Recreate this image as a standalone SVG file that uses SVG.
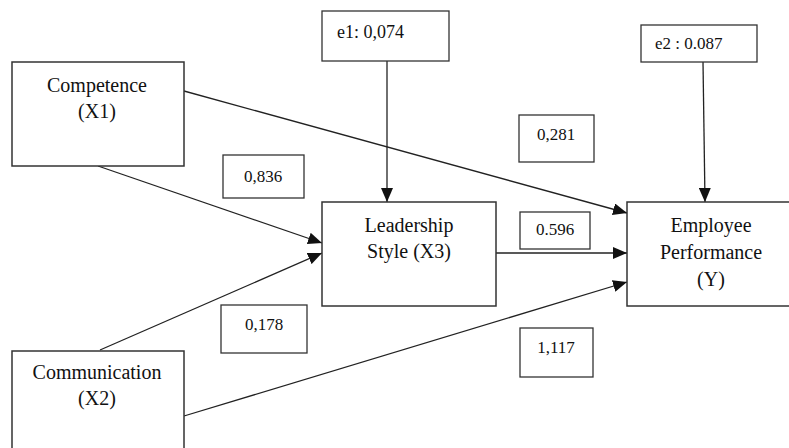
<svg xmlns="http://www.w3.org/2000/svg" width="789" height="448" viewBox="0 0 789 448">
<style>
.box{fill:#fff;stroke:#333;stroke-width:1.5}
.lbl{fill:#fff;stroke:#333;stroke-width:1.3}
.t{font-family:"Liberation Serif","Times New Roman",serif;font-size:20px;fill:#111;text-anchor:middle}
.s{font-family:"Liberation Serif","Times New Roman",serif;font-size:17px;fill:#111;text-anchor:middle}
.c{stroke:#222;stroke-width:1.3;fill:none;marker-end:url(#ah)}
</style>
<defs>
<marker id="ah" markerUnits="userSpaceOnUse" viewBox="0 0 14 12" refX="14" refY="6" markerWidth="14" markerHeight="12" orient="auto">
<path d="M0,0 L14,6 L0,12 Z" fill="#111"/>
</marker>
</defs>
<rect width="789" height="448" fill="#fff"/>
<g id="connectors">
<line class="c" x1="98" y1="166" x2="322" y2="243"/>
<line class="c" x1="100" y1="350" x2="322" y2="253"/>
<line class="c" x1="184" y1="91" x2="627" y2="213"/>
<line class="c" x1="496" y1="253" x2="627" y2="253"/>
<line class="c" x1="184" y1="416" x2="627" y2="282"/>
<line class="c" x1="387" y1="61" x2="387" y2="202"/>
<line class="c" x1="703" y1="62" x2="705" y2="202"/>
</g>
<g id="competence">
<rect class="box" x="12" y="62" width="172" height="104"/>
<text class="t" x="97" y="92">Competence</text>
<text class="t" x="97" y="118">(X1)</text>
</g>
<g id="communication">
<rect class="box" x="12" y="351" width="172" height="104"/>
<text class="t" x="97" y="379">Communication</text>
<text class="t" x="97" y="405">(X2)</text>
</g>
<g id="leadership">
<rect class="box" x="322" y="202" width="174" height="104"/>
<text class="t" x="409" y="232">Leadership</text>
<text class="t" x="409" y="258">Style (X3)</text>
</g>
<g id="employee">
<rect class="box" x="627" y="202" width="172" height="104"/>
<text class="t" x="711" y="232">Employee</text>
<text class="t" x="711" y="259">Performance</text>
<text class="t" x="711" y="286">(Y)</text>
</g>
<g id="e1">
<rect class="lbl" x="322" y="11" width="127" height="50"/>
<text class="s" x="337" y="38" style="text-anchor:start;font-size:18px">e1: 0,074</text>
</g>
<g id="e2">
<rect class="lbl" x="641" y="25" width="116" height="37"/>
<text class="s" x="655" y="49" style="text-anchor:start">e2 : 0.087</text>
</g>
<g id="w836">
<rect class="lbl" x="223" y="155" width="81" height="43"/>
<text class="s" x="263" y="182">0,836</text>
</g>
<g id="w281">
<rect class="lbl" x="519" y="115" width="75" height="47"/>
<text class="s" x="556" y="140">0,281</text>
</g>
<g id="w596">
<rect class="lbl" x="520" y="212" width="70" height="37"/>
<text class="s" x="555" y="235">0.596</text>
</g>
<g id="w178">
<rect class="lbl" x="221" y="305" width="86" height="48"/>
<text class="s" x="264" y="330">0,178</text>
</g>
<g id="w117">
<rect class="lbl" x="520" y="328" width="73" height="49"/>
<text class="s" x="556" y="353">1,117</text>
</g>
</svg>
